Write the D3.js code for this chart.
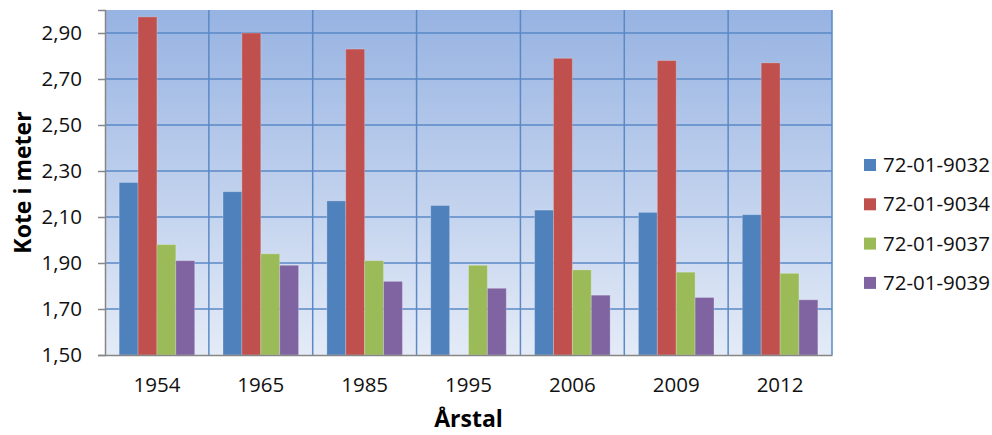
<!DOCTYPE html>
<html>
<head>
<meta charset="utf-8">
<script src="https://cdn.jsdelivr.net/npm/d3@7"></script>
<style>
  html, body { margin: 0; padding: 0; background: #fff; }
  svg { display: block; font-family: "Open Sans", sans-serif; }
</style>
</head>
<body>
<svg id="chart" width="992" height="435"></svg>
<script>
// Vannstandskoter per år for fire målepunkter
const years = ["1954", "1965", "1985", "1995", "2006", "2009", "2012"];
const seriesNames = ["72-01-9032", "72-01-9034", "72-01-9037", "72-01-9039"];
const s9032 = [2.25, 2.21, 2.17, 2.15, 2.13, 2.12, 2.11];
const s9034 = [2.97, 2.90, 2.83, null, 2.79, 2.78, 2.77];
const s9037 = [1.98, 1.94, 1.91, 1.89, 1.87, 1.86, 1.855];
const s9039 = [1.91, 1.89, 1.82, 1.79, 1.76, 1.75, 1.74];
const yTicks = [1.5, 1.7, 1.9, 2.1, 2.3, 2.5, 2.7, 2.9];
const colors = ["#4F81BD", "#C0504D", "#9BBB59", "#8064A2"];

const seriesValues = [s9032, s9034, s9037, s9039];

const svg = d3.select("#chart");
const plot = { left: 105, right: 832, top: 10, bottom: 355 };

const x = d3.scaleBand().domain(years).range([plot.left, plot.right]).paddingInner(0).paddingOuter(0);
const y = d3.scaleLinear().domain([1.5, 3.0]).range([plot.bottom, plot.top]);
// bars within a year: gap of 150% of one bar width, split on both sides
const xs = d3.scaleBand().domain(seriesNames)
  .range([0, x.bandwidth()]).paddingOuter(0.75).paddingInner(0);

// Plot background gradient
const defs = svg.append("defs");
const grad = defs.append("linearGradient").attr("id", "bg").attr("x1", 0).attr("y1", 0).attr("x2", 0).attr("y2", 1);
grad.append("stop").attr("offset", "0%").attr("stop-color", "#97B3E2");
grad.append("stop").attr("offset", "100%").attr("stop-color", "#E4EBF7");

svg.append("rect")
  .attr("x", plot.left).attr("y", plot.top)
  .attr("width", plot.right - plot.left).attr("height", plot.bottom - plot.top)
  .attr("fill", "url(#bg)");

// Horizontal gridlines
svg.append("g").selectAll("line").data(yTicks.slice(1)).join("line")
  .attr("x1", plot.left).attr("x2", plot.right)
  .attr("y1", d => y(d)).attr("y2", d => y(d))
  .attr("stroke", "#5A89C6").attr("stroke-width", 1.5);

// Vertical gridlines at category boundaries
svg.append("g").selectAll("line").data(years).join("line")
  .attr("x1", d => x(d) + x.bandwidth())
  .attr("x2", d => x(d) + x.bandwidth())
  .attr("y1", plot.top).attr("y2", plot.bottom)
  .attr("stroke", "#5A89C6").attr("stroke-width", 1.5);

// Bars
const barData = [];
years.forEach((yr, i) => {
  seriesNames.forEach((s, j) => {
    const v = seriesValues[j][i];
    if (v != null) barData.push({ year: yr, series: s, value: v, color: colors[j] });
  });
});
svg.append("g").selectAll("rect").data(barData).join("rect")
  .attr("x", d => x(d.year) + xs(d.series))
  .attr("width", xs.bandwidth())
  .attr("y", d => y(d.value))
  .attr("height", d => y(1.5) - y(d.value))
  .attr("fill", d => d.color)
  .attr("stroke", "rgba(255,255,255,0.22)")
  .attr("stroke-width", 1);

// Y axis
const yAxis = d3.axisLeft(y).tickValues(yTicks)
  .tickFormat(d => d3.format(".2f")(d).replace(".", ","))
  .tickSize(7).tickPadding(16);
const gy = svg.append("g").attr("transform", `translate(${plot.left},0)`).call(yAxis);
gy.select(".domain").attr("stroke", "#868686").attr("stroke-width", 1.5);
gy.selectAll(".tick line").attr("stroke", "#868686").attr("stroke-width", 1.5);
gy.selectAll("text").attr("font-size", 20.5).attr("fill", "#111").attr("font-family", "Open Sans");

// X axis
const xAxis = d3.axisBottom(x).tickSize(0).tickPadding(22);
const gx = svg.append("g").attr("transform", `translate(0,${plot.bottom})`).call(xAxis);
gx.select(".domain").attr("stroke", "#868686").attr("stroke-width", 1.5);
gx.selectAll("text").attr("font-size", 20.5).attr("fill", "#111").attr("font-family", "Open Sans");

// Axis titles
svg.append("text")
  .attr("x", (plot.left + plot.right) / 2).attr("y", 427)
  .attr("text-anchor", "middle").attr("font-size", 23).attr("font-weight", "bold")
  .attr("fill", "#000").text("Årstal");

svg.append("text")
  .attr("transform", `translate(31,${(plot.top + plot.bottom) / 2}) rotate(-90)`)
  .attr("text-anchor", "middle").attr("font-size", 23).attr("font-weight", "bold")
  .attr("fill", "#000").text("Kote i meter");

// Legend
const legend = svg.append("g").selectAll("g").data(seriesNames).join("g")
  .attr("transform", (d, i) => `translate(864,${165 + i * 39.3})`);
legend.append("rect").attr("x", 0).attr("y", -6).attr("width", 12).attr("height", 12)
  .attr("fill", (d, i) => colors[i]);
legend.append("text").attr("x", 19).attr("y", 0).attr("dy", "0.35em")
  .attr("font-size", 20.5).attr("fill", "#111").text(d => d);
</script>
</body>
</html>
